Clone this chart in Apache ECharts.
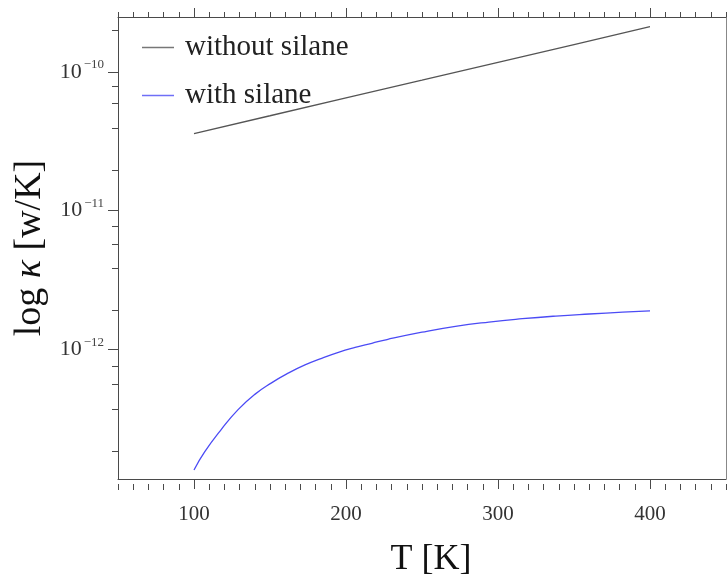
<!DOCTYPE html>
<html>
<head>
<meta charset="utf-8">
<script src="https://cdn.jsdelivr.net/npm/echarts@6/dist/echarts.min.js"></script>
<style>
  html, body { margin: 0; padding: 0; background: #fff; }
  #chart { width: 727px; height: 583px; }
</style>
</head>
<body>
<div id="chart"></div>
<script>
// Thermal conductance vs temperature, log-scaled conductance axis.
var tempWithout = [100, 150, 200, 250, 300, 350, 400];
var kappaWithout = [3.59e-11, 4.82e-11, 6.48e-11, 8.70e-11, 1.17e-10, 1.57e-10, 2.11e-10];

var tempWith = [100, 107, 118, 129, 140, 151, 162, 173, 184, 195, 206, 217, 227,
                250, 272, 294, 316, 338, 360, 382, 400];
var kappaWith = [1.352e-13, 1.824e-13, 2.655e-13, 3.681e-13, 4.742e-13, 5.741e-13, 6.745e-13,
                 7.727e-13, 8.630e-13, 9.528e-13, 1.033e-12, 1.107e-12, 1.178e-12,
                 1.330e-12, 1.466e-12, 1.574e-12, 1.663e-12, 1.738e-12, 1.799e-12, 1.854e-12, 1.897e-12];

var seriesNames = ['without silane', 'with silane'];
var seriesColors = ['#666666', '#5a5af5'];

var xMajorTicks = [100, 200, 300, 400];
var xMinorTicks = [];
for (var t = 50; t <= 450; t += 10) { if (t % 100 !== 0) xMinorTicks.push(t); }

// decades (exponents) and the in-decade multipliers that get minor ticks
var yDecades = [-12, -11, -10];
var yMinorMultipliers = [2, 4, 6, 8];
var yMinK = 1.165e-13, yMaxK = 2.48e-10;

var yMinorTicks = [];
[-13, -12, -11, -10].forEach(function (e) {
  yMinorMultipliers.forEach(function (m) {
    var v = Math.log10(m) + e;
    if (v > Math.log10(yMinK) && v < Math.log10(yMaxK)) yMinorTicks.push(v);
  });
});

function toPairs(xs, ys) {
  return xs.map(function (x, i) { return [x, Math.log10(ys[i])]; });
}

var FONT = '"Liberation Serif", "Times New Roman", serif';
var AXIS_COLOR = '#4a4a4a';
var GRID = { left: 118, top: 17, right: 1, bottom: 99 };
var yMin = Math.log10(yMinK), yMax = Math.log10(yMaxK);

var option = {
  animation: false,
  backgroundColor: '#ffffff',
  grid: [
    Object.assign({ containLabel: false }, GRID),
    Object.assign({ containLabel: false }, GRID)
  ],
  legend: {
    orient: 'vertical',
    left: 142,
    top: 33,
    padding: 0,
    itemWidth: 32,
    itemHeight: 14,
    itemGap: 19,
    icon: 'path://M0,0L32,0L32,1.5L0,1.5Z',
    textStyle: { fontFamily: FONT, fontSize: 29, color: '#222', padding: [0, 0, 0, 6] },
    data: [
      { name: seriesNames[0], itemStyle: { color: '#777777' } },
      { name: seriesNames[1], itemStyle: { color: '#6f6ff7' } }
    ]
  },
  xAxis: [
    { // bottom, major ticks + labels
      gridIndex: 0, type: 'value', position: 'bottom', min: 50, max: 450,
      name: 'T [K]', nameLocation: 'middle', nameGap: 63,
      nameTextStyle: { fontFamily: FONT, fontSize: 36, color: '#111', padding: [0, 0, 0, 18] },
      axisLine: { show: true, lineStyle: { color: AXIS_COLOR, width: 1 } },
      axisTick: { show: true, inside: false, length: 10, customValues: xMajorTicks, lineStyle: { color: AXIS_COLOR } },
      axisLabel: { show: true, customValues: xMajorTicks, margin: 25, fontFamily: FONT, fontSize: 21, color: '#333' },
      splitLine: { show: false }
    },
    { // top, major ticks
      gridIndex: 0, type: 'value', position: 'top', min: 50, max: 450,
      axisLine: { show: true, lineStyle: { color: AXIS_COLOR, width: 1 } },
      axisTick: { show: true, inside: false, length: 9, customValues: xMajorTicks, lineStyle: { color: AXIS_COLOR } },
      axisLabel: { show: false }, splitLine: { show: false }
    },
    { // bottom, minor ticks
      gridIndex: 1, type: 'value', position: 'bottom', min: 50, max: 450,
      axisLine: { show: false },
      axisTick: { show: true, inside: false, length: 6, customValues: xMinorTicks, lineStyle: { color: AXIS_COLOR } },
      axisLabel: { show: false }, splitLine: { show: false }
    },
    { // top, minor ticks
      gridIndex: 1, type: 'value', position: 'top', min: 50, max: 450,
      axisLine: { show: false },
      axisTick: { show: true, inside: false, length: 5, customValues: xMinorTicks, lineStyle: { color: AXIS_COLOR } },
      axisLabel: { show: false }, splitLine: { show: false }
    }
  ],
  yAxis: [
    { // left, decades with labels
      gridIndex: 0, type: 'value', position: 'left', min: yMin, max: yMax,
      name: '{n|log }{k|κ}{n| [w/K]}', nameLocation: 'middle', nameGap: 66,
      nameTextStyle: {
        fontFamily: FONT, fontSize: 38, color: '#111',
        rich: {
          n: { fontFamily: FONT, fontSize: 38, color: '#111' },
          k: { fontFamily: FONT, fontSize: 38, fontStyle: 'italic', color: '#111' }
        }
      },
      axisLine: { show: true, lineStyle: { color: AXIS_COLOR, width: 1 } },
      axisTick: { show: true, inside: false, length: 10, customValues: yDecades, lineStyle: { color: AXIS_COLOR } },
      axisLabel: {
        show: true, customValues: yDecades, margin: 14,
        formatter: function (v) { return '{b|10}{s|\u2212' + Math.abs(Math.round(v)) + '}'; },
        rich: {
          b: { fontFamily: FONT, fontSize: 22, color: '#333' },
          s: { fontFamily: FONT, fontSize: 13, color: '#444', padding: [0, 0, 14, 2] }
        }
      },
      splitLine: { show: false }
    },
    { // right border
      gridIndex: 0, type: 'value', position: 'right', min: yMin, max: yMax,
      axisLine: { show: true, lineStyle: { color: '#888', width: 1 } },
      axisTick: { show: false }, axisLabel: { show: false }, splitLine: { show: false }
    },
    { // left, minor ticks at 2,4,6,8 per decade
      gridIndex: 1, type: 'value', position: 'left', min: yMin, max: yMax,
      axisLine: { show: false },
      axisTick: { show: true, inside: false, length: 6, customValues: yMinorTicks, lineStyle: { color: AXIS_COLOR } },
      axisLabel: { show: false }, splitLine: { show: false }
    }
  ],
  series: [
    {
      name: seriesNames[0], type: 'line', xAxisIndex: 0, yAxisIndex: 0,
      symbol: 'none', smooth: false,
      lineStyle: { color: '#555555', width: 1.3 },
      itemStyle: { color: seriesColors[0] },
      data: toPairs(tempWithout, kappaWithout)
    },
    {
      name: seriesNames[1], type: 'line', xAxisIndex: 0, yAxisIndex: 0,
      symbol: 'none', smooth: 0.5,
      lineStyle: { color: '#4b4bf5', width: 1.3 },
      itemStyle: { color: seriesColors[1] },
      data: toPairs(tempWith, kappaWith)
    }
  ]
};

var chart = echarts.init(document.getElementById('chart'), null, { renderer: 'canvas' });
chart.setOption(option);
</script>
</body>
</html>
